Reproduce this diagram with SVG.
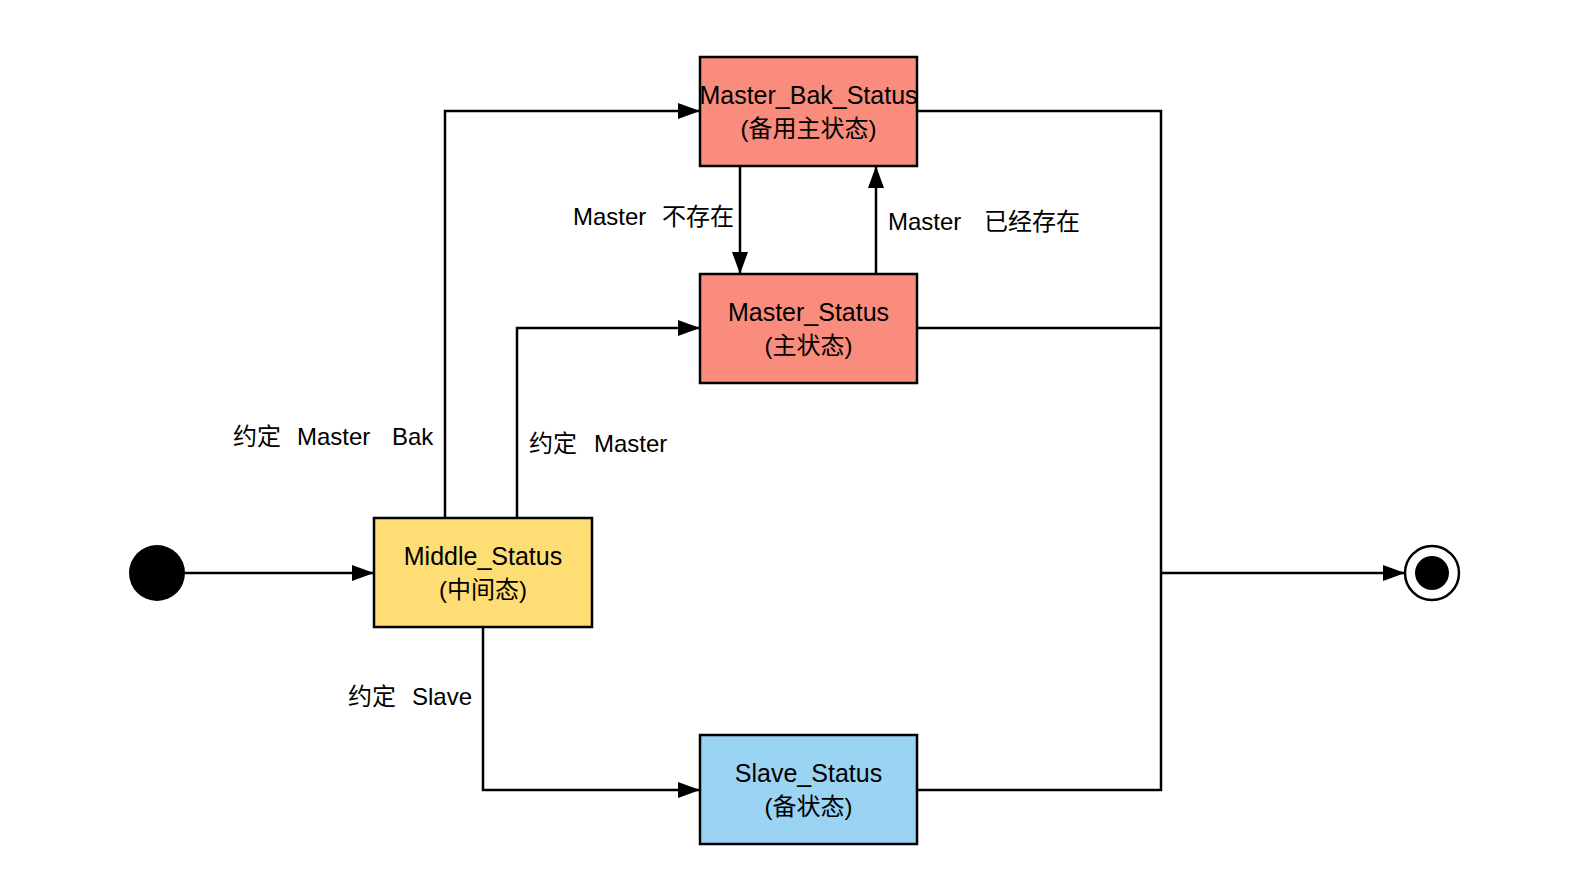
<svg xmlns="http://www.w3.org/2000/svg" width="1570" height="890" viewBox="0 0 1570 890">
<style>
.box{stroke:#000;stroke-width:2.5}
.t{font-family:"Liberation Sans","Noto Sans CJK SC",sans-serif;font-size:24px;fill:#000}
.n{font-size:25px}
.c{text-anchor:middle}
.ln{fill:none;stroke:#000;stroke-width:2.5}
</style>
<defs>
<marker id="ar" markerWidth="22" markerHeight="16" refX="21" refY="8" orient="auto" markerUnits="userSpaceOnUse">
<path d="M0,0 L22,8 L0,16 Z" fill="#000"/>
</marker>
</defs>
<rect width="1570" height="890" fill="#fff"/>
<g id="connectors">
<path class="ln" d="M185,573 H373" marker-end="url(#ar)"/>
<path class="ln" d="M445,518 V111 H699" marker-end="url(#ar)"/>
<path class="ln" d="M517,518 V328 H699" marker-end="url(#ar)"/>
<path class="ln" d="M483,627 V790 H699" marker-end="url(#ar)"/>
<path class="ln" d="M740,166 V273" marker-end="url(#ar)"/>
<path class="ln" d="M876,274 V167" marker-end="url(#ar)"/>
<path class="ln" d="M917,111 H1161 V790 H917"/>
<path class="ln" d="M917,328 H1161"/>
<path class="ln" d="M1161,573 H1404" marker-end="url(#ar)"/>
</g>
<g id="labels">
<text class="t" y="225"><tspan x="573">Master</tspan><tspan x="662">不存在</tspan></text>
<text class="t" y="230"><tspan x="888">Master</tspan><tspan x="984">已经存在</tspan></text>
<text class="t" y="445"><tspan x="233">约定</tspan><tspan x="297">Master</tspan><tspan x="392">Bak</tspan></text>
<text class="t" y="452"><tspan x="529">约定</tspan><tspan x="594">Master</tspan></text>
<text class="t" y="705"><tspan x="348">约定</tspan><tspan x="412">Slave</tspan></text>
</g>
<g id="start">
<circle cx="157" cy="573" r="28" fill="#000"/>
</g>
<g id="end">
<circle cx="1432" cy="573" r="27" fill="#fff" stroke="#000" stroke-width="2.5"/>
<circle cx="1432" cy="573" r="17" fill="#000"/>
</g>
<g id="master_bak_status">
<rect class="box" x="700" y="57" width="217" height="109" fill="#FA8C7D"/>
<text class="t n c" x="808.5" y="104">Master_Bak_Status</text>
<text class="t c" x="808.5" y="137">(备用主状态)</text>
</g>
<g id="master_status">
<rect class="box" x="700" y="274" width="217" height="109" fill="#FA8C7D"/>
<text class="t n c" x="808.5" y="321">Master_Status</text>
<text class="t c" x="808.5" y="354">(主状态)</text>
</g>
<g id="middle_status">
<rect class="box" x="374" y="518" width="218" height="109" fill="#FEDD75"/>
<text class="t n c" x="483" y="565">Middle_Status</text>
<text class="t c" x="483" y="598">(中间态)</text>
</g>
<g id="slave_status">
<rect class="box" x="700" y="735" width="217" height="109" fill="#9BD3F2"/>
<text class="t n c" x="808.5" y="782">Slave_Status</text>
<text class="t c" x="808.5" y="815">(备状态)</text>
</g>
</svg>
